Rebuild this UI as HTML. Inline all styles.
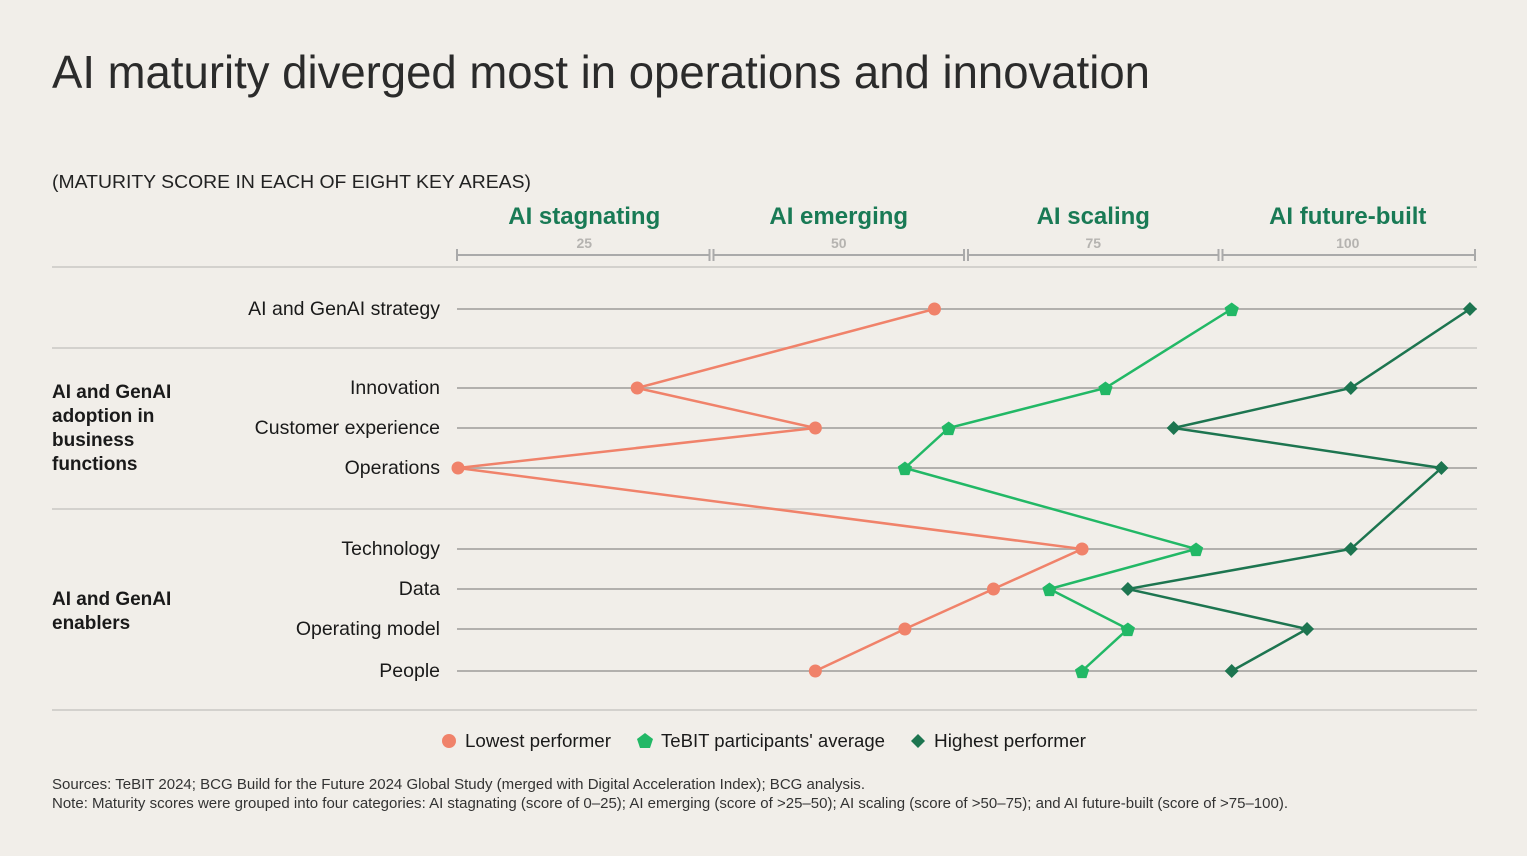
<!DOCTYPE html>
<html><head><meta charset="utf-8">
<style>
body{margin:0;background:#f1eee9;font-family:"Liberation Sans",sans-serif;}
svg{display:block}
</style></head>
<body>
<svg id="chart" width="1527" height="856" xmlns="http://www.w3.org/2000/svg">
<rect width="1527" height="856" fill="#f1eee9"/>
<text x="52" y="88" font-size="46" fill="#2b2b2b" textLength="1098" lengthAdjust="spacingAndGlyphs">AI maturity diverged most in operations and innovation</text>
<text x="52" y="188" font-size="18" fill="#222" textLength="479" lengthAdjust="spacingAndGlyphs">(MATURITY SCORE IN EACH OF EIGHT KEY AREAS)</text>
<g id="axis"></g>
<g id="rows"></g>
<g id="series"></g>
<text x="52" y="391" font-size="19" font-weight="bold" fill="#1a1a1a"><tspan x="52" dy="7">AI and GenAI</tspan><tspan x="52" dy="24">adoption in</tspan><tspan x="52" dy="24">business</tspan><tspan x="52" dy="24">functions</tspan></text>
<text x="52" y="598" font-size="19" font-weight="bold" fill="#1a1a1a"><tspan x="52" dy="7">AI and GenAI</tspan><tspan x="52" dy="24">enablers</tspan></text>
<g>
<circle cx="449" cy="741" r="7" fill="#f0826a"/>
<text x="465" y="747" font-size="18" fill="#1a1a1a" textLength="146" lengthAdjust="spacingAndGlyphs">Lowest performer</text>
<polygon points="645,733 653,739 650,748 640,748 637,739" fill="#22b866"/>
<text x="661" y="747" font-size="18" fill="#1a1a1a" textLength="224" lengthAdjust="spacingAndGlyphs">TeBIT participants' average</text>
<polygon points="918,734 925,741 918,748 911,741" fill="#1d7550"/>
<text x="934" y="747" font-size="18" fill="#1a1a1a" textLength="152" lengthAdjust="spacingAndGlyphs">Highest performer</text>
</g>
<text x="52" y="789" font-size="14.5" fill="#333" textLength="813" lengthAdjust="spacingAndGlyphs">Sources: TeBIT 2024; BCG Build for the Future 2024 Global Study (merged with Digital Acceleration Index); BCG analysis.</text>
<text x="52" y="808" font-size="14.5" fill="#333" textLength="1236" lengthAdjust="spacingAndGlyphs">Note: Maturity scores were grouped into four categories: AI stagnating (score of 0–25); AI emerging (score of &gt;25–50); AI scaling (score of &gt;50–75); and AI future-built (score of &gt;75–100).</text>
</svg>
<script>
const categories=["AI and GenAI strategy","Innovation","Customer experience","Operations","Technology","Data","Operating model","People"];
const lowest=[46.9,17.7,35.2,0.1,61.4,52.7,44.0,35.2];
const average=[76.1,63.7,48.3,44.0,72.6,58.2,65.9,61.4];
const highest=[99.5,87.8,70.4,96.7,87.8,65.9,83.5,76.1];
const bandLabels=["AI stagnating","AI emerging","AI scaling","AI future-built"];
const tickLabels=["25","50","75","100"];
const NS="http://www.w3.org/2000/svg";
const X0=457,X1=1475;
function x(v){return X0+(X1-X0)*v/100;}
const rowY=[309,388,428,468,549,589,629,671];
function y(i){return rowY[i];}
function mk(tag,attrs,parent,text){const e=document.createElementNS(NS,tag);for(const k in attrs)e.setAttribute(k,attrs[k]);if(text!=null)e.textContent=text;parent.appendChild(e);return e;}
const axis=document.getElementById('axis');
bandLabels.forEach((b,i)=>{
 const a=x(i*25),c=x((i+1)*25),m=(a+c)/2;
 const t=mk('text',{x:m,y:224,'font-size':24,'font-weight':'bold',fill:'#197a55','text-anchor':'middle'},axis,b);
 
 
 const tl=mk('text',{x:m,y:248,'font-size':14,'font-weight':'bold',fill:'#b5b3b0','text-anchor':'middle'},axis,tickLabels[i]);
 
 
 const l=mk('path',{d:`M${a+(i?2:0)} 249V261M${a+(i?2:0)} 255H${c-(i<3?2:0)}M${c-(i<3?2:0)} 249V261`,stroke:'#aaa','stroke-width':2,fill:'none'},axis);
 
 
});
const rows=document.getElementById('rows');
[267,348,509,710].forEach(yy=>{
 const s=mk('line',{x1:52,x2:1477,y1:yy,y2:yy,stroke:'#d3d1cd','stroke-width':2},rows);
 
 
});
categories.forEach((c,i)=>{
 const g=mk('line',{x1:457,x2:1477,y1:y(i),y2:y(i),stroke:'#b2b0ad','stroke-width':2},rows);
 
 
 const t=mk('text',{x:440,y:y(i)+6,'font-size':19.5,fill:'#1a1a1a','text-anchor':'end'},rows,c);
 
 
});
const ser=document.getElementById('series');
function line(vals,color,name){
 const p=mk('polyline',{points:vals.map((v,i)=>x(v)+','+y(i)).join(' '),fill:'none',stroke:color,'stroke-width':2.5},ser);
 
 
}
line(lowest,'#f0826a','lowest');
line(average,'#22b866','average');
line(highest,'#1d7550','highest');
lowest.forEach((v,i)=>{
 const c=mk('circle',{cx:x(v),cy:y(i),r:6.5,fill:'#f0826a'},ser);
 
 
});
average.forEach((v,i)=>{
 const cx=x(v),cy=y(i);
 const pts=[];for(let k=0;k<5;k++){const a=-Math.PI/2+k*2*Math.PI/5;pts.push((cx+7.5*Math.cos(a))+','+(cy+1+7.5*Math.sin(a)));}
 const p=mk('polygon',{points:pts.join(' '),fill:'#22b866'},ser);
 
 
});
highest.forEach((v,i)=>{
 const cx=x(v),cy=y(i);
 const p=mk('polygon',{points:`${cx},${cy-7} ${cx+7},${cy} ${cx},${cy+7} ${cx-7},${cy}`,fill:'#1d7550'},ser);
 
 
});
</script>
</body></html>
